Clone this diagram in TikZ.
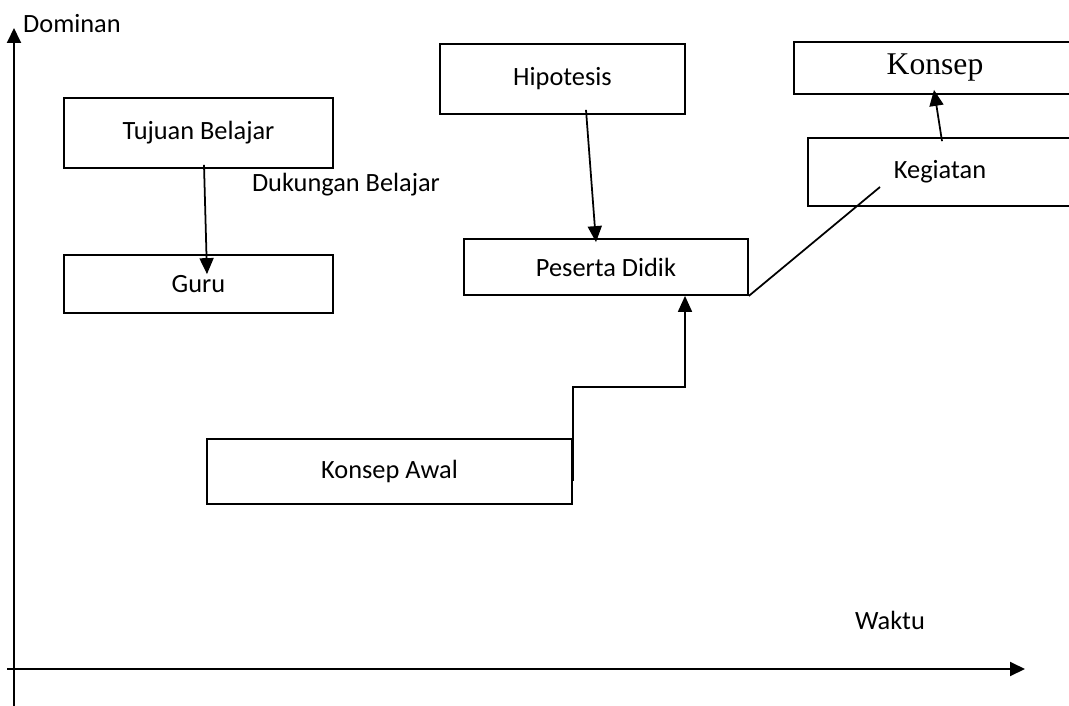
\documentclass[tikz,border=0pt]{standalone}
\usepackage{fontspec}
\setmainfont{Carlito}
\newfontfamily\serifkonsep{Liberation Serif}
\usetikzlibrary{arrows.meta, calc}

\begin{document}
\begin{tikzpicture}[
  x=0.02cm, y=-0.02cm,
  font=\fontsize{15}{18}\selectfont,
  kotak/.style={draw, line width=1pt, inner sep=0pt, align=center},
  panah/.style={-{Triangle[length=0.32cm, width=0.28cm]}, line width=1pt},
  garis/.style={line width=1pt},
  sumbu/.style={-{Triangle[length=0.3cm, width=0.28cm]}, line width=1.1pt},
]
\useasboundingbox (0,0) rectangle (1069,706);
\clip (0,0) rectangle (1069,706);
% ---- sumbu
\coordinate (ybawah) at (14,706);
\coordinate (yatas) at (14,28);
\coordinate (xkiri) at (7,669);
\coordinate (xkanan) at (1025,669);
\draw[sumbu] (ybawah) -- (yatas);
\draw[sumbu] (xkiri) -- (xkanan);
\node[anchor=west] (dominan) at (17,24) {Dominan};
\node (waktu) at (890,620) {Waktu};
% ---- kotak
\node[kotak, minimum width=269*0.02cm, minimum height=70*0.02cm] (tujuan) at (198.5,133) {Tujuan Belajar};
\node[kotak, minimum width=269*0.02cm, minimum height=58*0.02cm] (guru) at (198.5,284) {Guru};
\node (dukungan) at (346,185) {Dukungan Belajar};
\node[kotak, minimum width=245*0.02cm, minimum height=70*0.02cm] (hipo) at (562.5,79) {Hipotesis};
\node[kotak, minimum width=284*0.02cm, minimum height=56*0.02cm] (peserta) at (606,267) {Peserta Didik};
\node[kotak, minimum width=365*0.02cm, minimum height=65*0.02cm] (awal) at (389.5,471.5) {Konsep Awal};
\node[kotak, minimum width=264*0.02cm, minimum height=68*0.02cm] (kegiatan) at (940,172) {Kegiatan};
\node[kotak, minimum width=282*0.02cm, minimum height=52*0.02cm,
      font=\serifkonsep\fontsize{18}{21}\selectfont] (konsep) at (935,68) {Konsep};
% ---- hubungan
\draw[panah] ($(tujuan.south)+(5.5,-4)$) -- ($(guru.north)+(8.5,20)$);
\draw[panah] ($(hipo.south)+(23.5,-5)$) -- ($(peserta.north)+(-10,4)$);
\coordinate (tangga) at (685,387);
\draw[panah] ($(awal.east)+(0,9)$) |- (tangga) -- (tangga |- peserta.south);
\draw[garis] (peserta.south east) -- ($(kegiatan.center)+(-60,15)$);
\draw[panah] ($(kegiatan.north)+(2,4)$) -- ($(konsep.south)+(-1,-5)$);
\end{tikzpicture}
\end{document}
